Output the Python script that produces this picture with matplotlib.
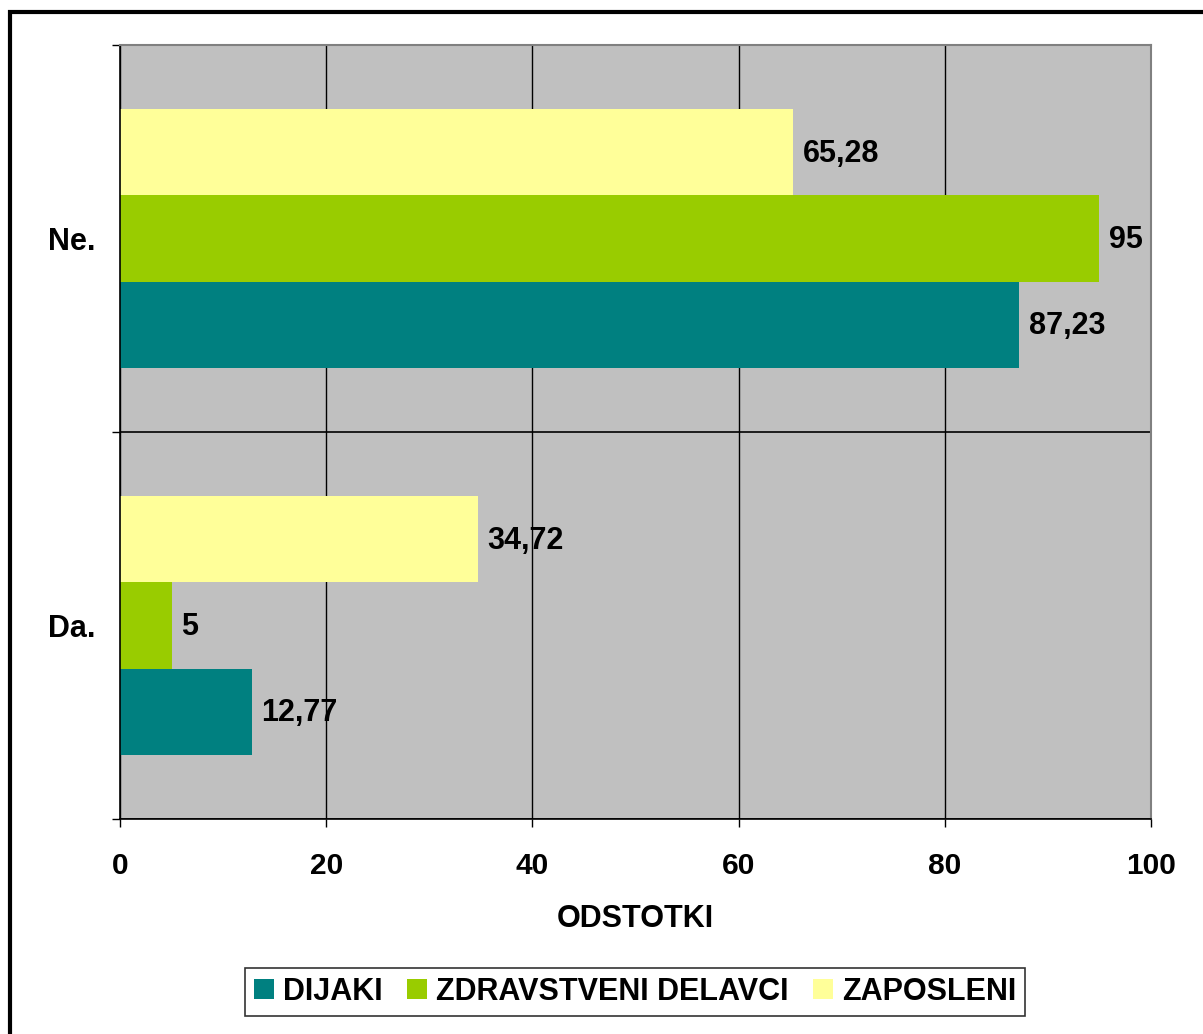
import matplotlib
matplotlib.use("Agg")
import matplotlib.pyplot as plt
import matplotlib.patches as mpatches
import numpy as np

# ── Data ────────────────────────────────────────────────
categories = ["Da.", "Ne."]
series_names = ["DIJAKI", "ZDRAVSTVENI DELAVCI", "ZAPOSLENI"]
dijaki = [12.77, 87.23]
zdravstveni = [5, 95]
zaposleni = [34.72, 65.28]
x_ticks = [0, 20, 40, 60, 80, 100]
x_label = "ODSTOTKI"

colors = ["#008080", "#99CC00", "#FFFF99"]

plt.rcParams['font.family'] = ['Liberation Sans', 'DejaVu Sans']
plt.rcParams['font.weight'] = 'bold'

W, H, DPI = 1203, 1034, 100
fig = plt.figure(figsize=(W / DPI, H / DPI), dpi=DPI)

# outer frame (runs off right / bottom edge)
fig.patches.append(mpatches.Rectangle((10 / W, -0.05), 1.1, 1 - 12 / H + 0.05,
                                      transform=fig.transFigure, fill=False,
                                      edgecolor='black', linewidth=3))

ax = fig.add_axes([120 / W, 1 - 819 / H, 1031 / W, 774 / H])
ax.set_facecolor('#C0C0C0')

y = np.arange(len(categories))
bh = 0.223
values = [dijaki, zdravstveni, zaposleni]
for i, (name, vals, col) in enumerate(zip(series_names, values, colors)):
    pos = y + (i - 1) * bh
    ax.barh(pos, vals, height=bh, color=col, label=name, zorder=2)
    for p, v in zip(pos, vals):
        txt = f"{v:g}".replace('.', ',')
        ax.annotate(txt, (v, p), xytext=(7, -1), textcoords='offset points',
                    va='center', ha='left', fontsize=22, fontweight='bold', zorder=3)

ax.set_xlim(0, 100)
ax.set_ylim(-0.5, 1.5)
ax.set_xticks(x_ticks)
ax.set_xticklabels([str(t) for t in x_ticks])
ax.set_yticks(y)
ax.set_yticklabels(categories)
ax.set_yticks([-0.5, 0.5, 1.5], minor=True)
ax.tick_params(axis='y', which='major', length=0, pad=18, labelsize=22)
ax.tick_params(axis='y', which='minor', length=6, width=1, direction='out', color='black')
ax.tick_params(axis='x', length=6, width=1, direction='out', pad=18, labelsize=21.5)

ax.grid(True, axis='x', color='black', linewidth=1, zorder=1)
ax.grid(True, axis='y', which='minor', color='black', linewidth=1.2, zorder=1)
ax.set_axisbelow(True)

for s in ['left', 'bottom']:
    ax.spines[s].set_color('black')
    ax.spines[s].set_linewidth(1.2)
for s in ['top', 'right']:
    ax.spines[s].set_color('#808080')
    ax.spines[s].set_linewidth(1.5)

ax.set_xlabel(x_label, fontsize=22, fontweight='bold', labelpad=17)

leg = fig.legend(loc='center', bbox_to_anchor=(635 / W, 1 - 992 / H), ncol=3,
                 fontsize=22, frameon=True, fancybox=False, handlelength=0.65,
                 handleheight=0.65, handletextpad=0.3, columnspacing=0.8,
                 borderpad=0.3, borderaxespad=0)
leg.get_frame().set_edgecolor('black')
leg.get_frame().set_linewidth(1.2)

fig.savefig('out.png', dpi=DPI)
